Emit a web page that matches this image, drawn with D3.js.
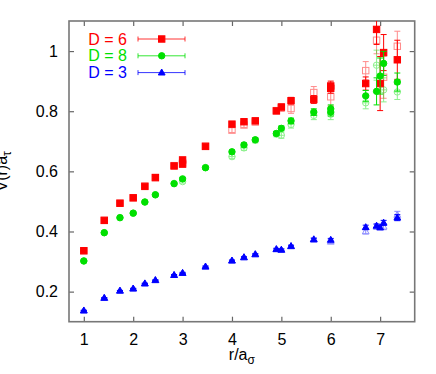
<!DOCTYPE html>
<html>
<head>
<meta charset="utf-8">
<script src="https://cdn.jsdelivr.net/npm/d3@7/dist/d3.min.js"></script>
<style>
  body { margin: 0; background: #fff; }
  text { font-family: "Liberation Sans", Arial, Helvetica, sans-serif; }
</style>
</head>
<body>
<script>
// r values (lattice distances) used by the series
var rAll = [1, 1.414, 1.732, 2, 2.236, 2.449, 2.828, 3, 3.464, 4, 4.243, 4.472, 4.899, 5, 5.196, 5.657, 6, 6.708, 6.928, 7.071, 7.348];

// D = 6, filled squares
var d6R   = [1, 1.414, 1.732, 2, 2.236, 2.449, 2.828, 3, 3, 3.464, 4, 4.243, 4.472, 4.899, 5, 5.196, 5.657, 6, 6, 6.708, 6.928, 7, 7.071, 7.348];
var d6V   = [0.336, 0.437, 0.494, 0.512, 0.550, 0.579, 0.618, 0.638, 0.624, 0.683, 0.757, 0.765, 0.768, 0.801, 0.814, 0.835, 0.839, 0.884, 0.876, 0.892, 1.072, 0.892, 0.995, 0.971];
var d6E   = [0.002, 0.002, 0.003, 0.003, 0.003, 0.004, 0.004, 0.004, 0.004, 0.005, 0.006, 0.006, 0.007, 0.008, 0.009, 0.011, 0.013, 0.016, 0.016, 0.022, 0.05, 0.09, 0.06, 0.065];
// D = 6, open squares
var d6oV  = [0.336, 0.437, 0.494, 0.512, 0.551, 0.580, 0.619, 0.628, 0.684, 0.737, 0.754, 0.764, 0.802, 0.811, 0.809, 0.862, 0.848, 0.935, 1.036, 0.913, 1.016];
var d6oE  = [0.003, 0.003, 0.004, 0.004, 0.004, 0.005, 0.005, 0.006, 0.006, 0.008, 0.008, 0.009, 0.01, 0.012, 0.016, 0.02, 0.03, 0.03, 0.045, 0.07, 0.05];

// D = 8, filled circles
var d8R   = [1, 1.414, 1.732, 2, 2.236, 2.449, 2.828, 3, 3.464, 4, 4.243, 4.472, 4.899, 5, 5.196, 5.657, 6, 6, 6.708, 6.928, 7, 7.071, 7.348];
var d8V   = [0.302, 0.396, 0.446, 0.461, 0.498, 0.522, 0.559, 0.575, 0.612, 0.665, 0.688, 0.705, 0.726, 0.743, 0.768, 0.797, 0.808, 0.797, 0.851, 0.866, 0.917, 0.959, 0.897];
var d8E   = [0.002, 0.002, 0.002, 0.003, 0.003, 0.003, 0.004, 0.004, 0.004, 0.005, 0.006, 0.006, 0.007, 0.008, 0.009, 0.011, 0.013, 0.013, 0.018, 0.045, 0.06, 0.04, 0.03];
// D = 8, open circles
var d8oV  = [0.302, 0.396, 0.446, 0.461, 0.498, 0.522, 0.560, 0.566, 0.613, 0.649, 0.678, 0.703, 0.724, 0.720, 0.756, 0.786, 0.790, 0.828, 0.953, 0.871, 0.864];
var d8oE  = [0.003, 0.003, 0.003, 0.004, 0.004, 0.004, 0.005, 0.005, 0.006, 0.007, 0.008, 0.008, 0.009, 0.01, 0.012, 0.014, 0.018, 0.02, 0.05, 0.04, 0.025];

// D = 3, filled triangles
var d3R   = [1, 1.414, 1.732, 2, 2.236, 2.449, 2.828, 3, 3.464, 4, 4.243, 4.472, 4.899, 5, 5.196, 5.657, 6, 6.708, 6.928, 7, 7.071, 7.348];
var d3V   = [0.137, 0.179, 0.203, 0.210, 0.227, 0.238, 0.255, 0.262, 0.283, 0.303, 0.314, 0.324, 0.341, 0.339, 0.351, 0.373, 0.372, 0.414, 0.419, 0.413, 0.429, 0.446];
var d3E   = [0.001, 0.001, 0.001, 0.001, 0.001, 0.001, 0.002, 0.002, 0.002, 0.002, 0.002, 0.002, 0.003, 0.003, 0.003, 0.004, 0.005, 0.007, 0.006, 0.006, 0.008, 0.01];
// D = 3, open triangles
var d3oV  = [0.137, 0.179, 0.203, 0.210, 0.227, 0.238, 0.255, 0.262, 0.283, 0.303, 0.314, 0.324, 0.341, 0.339, 0.351, 0.375, 0.366, 0.400, 0.416, 0.416, 0.455];
var d3oE  = [0.001, 0.001, 0.001, 0.001, 0.001, 0.002, 0.002, 0.002, 0.002, 0.002, 0.003, 0.003, 0.003, 0.003, 0.004, 0.005, 0.006, 0.008, 0.008, 0.01, 0.012];

var legendNames = ["D = 6", "D = 8", "D = 3"];
var xTicks = [1, 2, 3, 4, 5, 6, 7];
var yTicks = [0.2, 0.4, 0.6, 0.8, 1];

var red = "#ff0000", green = "#00e000", blue = "#0000ff";

var W = 436, H = 374;
var L = 69, R = 414.7, T = 21, B = 321.7;

var x = d3.scaleLinear().domain([0.7, 7.7]).range([L, R]);
var y = d3.scaleLinear().domain([0.1, 1.1]).range([B, T]);

var svg = d3.select("body").append("svg").attr("width", W).attr("height", H);

svg.append("defs").append("clipPath").attr("id", "plot")
    .append("rect").attr("x", L).attr("y", T).attr("width", R - L).attr("height", B - T);

// axes, ticks pointing inwards on all four sides
var axisColor = "#666";
function styleAxis(g) {
    g.select(".domain").remove();
    g.selectAll(".tick line").attr("stroke", axisColor).attr("stroke-width", 1.2);
    g.selectAll(".tick text").attr("fill", "#000").style("font-size", "16px")
        .style("font-family", "'Liberation Sans', Arial, sans-serif");
}
svg.append("g").attr("transform", "translate(0," + B + ")")
    .call(d3.axisBottom(x).tickValues(xTicks).tickSize(-5).tickPadding(12).tickFormat(d3.format("d")))
    .call(styleAxis);
svg.append("g").attr("transform", "translate(0," + T + ")")
    .call(d3.axisTop(x).tickValues(xTicks).tickSize(-5).tickFormat(""))
    .call(styleAxis);
svg.append("g").attr("transform", "translate(" + L + ",0)")
    .call(d3.axisLeft(y).tickValues(yTicks).tickSize(-5).tickPadding(11).tickFormat(function (d) { return d === 1 ? "1" : d3.format(".1f")(d); }))
    .call(styleAxis);
svg.append("g").attr("transform", "translate(" + R + ",0)")
    .call(d3.axisRight(y).tickValues(yTicks).tickSize(-5).tickFormat(""))
    .call(styleAxis);

svg.append("rect").attr("x", L).attr("y", T).attr("width", R - L).attr("height", B - T)
    .attr("fill", "none").attr("stroke", "#777").attr("stroke-width", 1.6);

// axis titles
var xt = svg.append("text").attr("x", (L + R) / 2).attr("y", 360).attr("text-anchor", "middle")
    .style("font-size", "16px");
xt.append("tspan").text("r/a");
xt.append("tspan").attr("dy", 4).style("font-size", "12px").text("σ");

var yt = svg.append("text").attr("transform", "translate(7," + ((T + B) / 2) + ") rotate(-90)")
    .attr("text-anchor", "middle").style("font-size", "16px");
yt.append("tspan").text("V(r)a");
yt.append("tspan").attr("dy", 4).style("font-size", "12px").text("τ");

// markers
function marker(g, shape, color, filled, cx, cy) {
    var fill = filled ? color : "none";
    if (shape === "square") {
        g.append("rect").attr("x", cx - 3.2).attr("y", cy - 3.2).attr("width", 6.4).attr("height", 6.4)
            .attr("fill", fill).attr("stroke", color).attr("stroke-width", 1);
    } else if (shape === "circle") {
        g.append("circle").attr("cx", cx).attr("cy", cy).attr("r", 3.2)
            .attr("fill", fill).attr("stroke", color).attr("stroke-width", 1);
        if (!filled) {
            g.append("line").attr("x1", cx - 3.2).attr("x2", cx + 3.2).attr("y1", cy).attr("y2", cy).attr("stroke", color);
        }
    } else {
        g.append("path").attr("d", "M" + cx + "," + (cy - 3.6) + "L" + (cx + 3.4) + "," + (cy + 2.4) + "L" + (cx - 3.4) + "," + (cy + 2.4) + "Z")
            .attr("fill", fill).attr("stroke", color).attr("stroke-width", 1);
    }
}

function errBar(g, color, cx, y1, y2, w) {
    g.append("line").attr("x1", cx).attr("x2", cx).attr("y1", y1).attr("y2", y2).attr("stroke", color);
    g.append("line").attr("x1", cx - w).attr("x2", cx + w).attr("y1", y1).attr("y2", y1).attr("stroke", color);
    g.append("line").attr("x1", cx - w).attr("x2", cx + w).attr("y1", y2).attr("y2", y2).attr("stroke", color);
}

function drawSeries(rs, vs, es, shape, color, filled) {
    var g = svg.append("g").attr("clip-path", "url(#plot)").attr("opacity", filled ? 1 : 0.45);
    rs.forEach(function (r, i) {
        var cx = x(r);
        errBar(g, color, cx, y(vs[i] + es[i]), y(vs[i] - es[i]), 3);
        marker(g, shape, color, filled, cx, y(vs[i]));
    });
}

drawSeries(rAll, d6oV, d6oE, "square", red, false);
drawSeries(rAll, d8oV, d8oE, "circle", green, false);
drawSeries(rAll, d3oV, d3oE, "triangle", blue, false);
drawSeries(d6R, d6V, d6E, "square", red, true);
drawSeries(d8R, d8V, d8E, "circle", green, true);
drawSeries(d3R, d3V, d3E, "triangle", blue, true);

// legend
var legColors = [red, green, blue];
var legShapes = ["square", "circle", "triangle"];
legendNames.forEach(function (name, i) {
    var yy = 39 + i * 16.8;
    svg.append("text").attr("x", 127).attr("y", yy + 5.5).attr("text-anchor", "end")
        .attr("fill", legColors[i]).style("font-size", "16px").text(name);
    var g = svg.append("g");
    g.append("line").attr("x1", 138).attr("x2", 185).attr("y1", yy).attr("y2", yy).attr("stroke", legColors[i]).attr("stroke-width", 0.8);
    g.append("line").attr("x1", 138).attr("x2", 138).attr("y1", yy - 2.5).attr("y2", yy + 2.5).attr("stroke", legColors[i]).attr("stroke-width", 0.8);
    g.append("line").attr("x1", 185).attr("x2", 185).attr("y1", yy - 2.5).attr("y2", yy + 2.5).attr("stroke", legColors[i]).attr("stroke-width", 0.8);
    marker(g, legShapes[i], legColors[i], true, 161.7, yy);
});
</script>
</body>
</html>
